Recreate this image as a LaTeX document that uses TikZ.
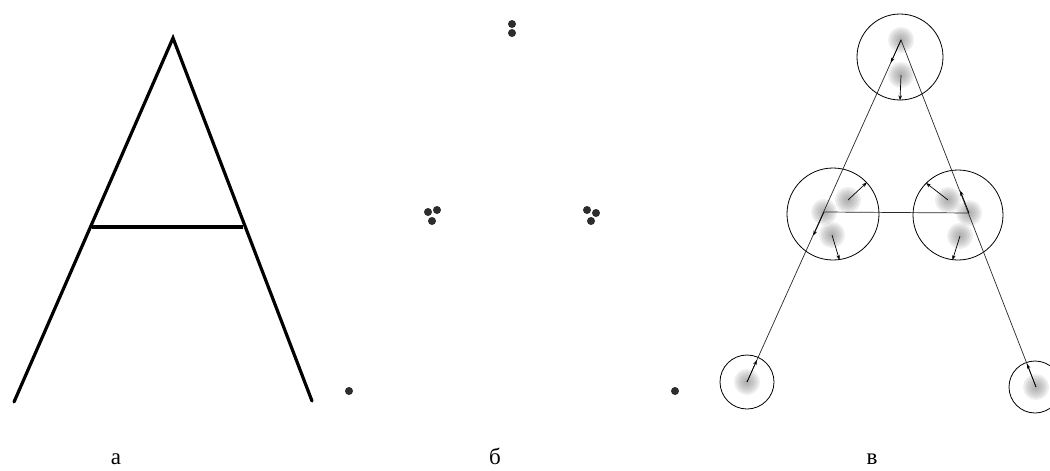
\documentclass[tikz,border=0pt]{standalone}
\usepackage{fontspec}
\setmainfont{Liberation Serif}
\usetikzlibrary{arrows.meta,calc,positioning}
\definecolor{DotGrey}{RGB}{45,45,45}
\definecolor{LineGrey}{RGB}{40,40,40}
\tikzset{
  letterline/.style={line width=3.2pt,line cap=round},
  spot/.style={fill=DotGrey},
  blob/.style={fill=gray,fill opacity=.13},
  ring/.style={circle,draw,line width=.8pt,inner sep=0pt},
  link/.style={LineGrey,line width=.7pt},
  drift/.style={->,line width=.7pt},
  tag/.style={anchor=base,font=\fontsize{23}{27}\selectfont,inner sep=0pt}
}
\begin{document}
\begin{tikzpicture}[x=1pt,y=-1pt,>={Stealth[length=5pt,width=3.5pt]}]
  \fill[white] (0,0) rectangle (1050,471);
  \useasboundingbox (0,0) rectangle (1050,471);
  \clip (0,0) rectangle (1050,471);
  % a
  \coordinate (apex) at (173,38);
  \coordinate (footL) at (14,402);
  \coordinate (footR) at (312,401);
  \coordinate (barL) at (92,227);
  \coordinate (barR) at (243,227);
  \draw[letterline] (footL) -- (apex) -- (footR);
  \draw[letterline,line cap=butt] (barL) -- (barR);
  % b
  \foreach \x/\y in {512/24,512/33,428/212,437/210,432/221,587/210,596/213,591/221,349/391,675/391}
    \fill[spot] (\x,\y) circle (4);
  % v
  \coordinate (t1) at (901,40);
  \coordinate (t2) at (901,75);
  \coordinate (l1) at (824,212);
  \coordinate (l2) at (848,200);
  \coordinate (l3) at (832,235);
  \coordinate (r1) at (969,213);
  \coordinate (r2) at (948,200);
  \coordinate (r3) at (960,236);
  \coordinate (bl) at (747,382);
  \coordinate (br) at (1036,387);
  \foreach \p in {t1,t2,l1,l2,l3,r1,r2,r3,bl,br}
    \foreach \r in {13,11,9,7,5,3}
      \fill[blob] (\p) circle (\r);
  \node[ring,minimum size=86pt] (ct) at (900,57) {};
  \node[ring,minimum size=92pt] (cl) at (833,214) {};
  \node[ring,minimum size=90pt] (cr) at (958,215) {};
  \node[ring,minimum size=54pt] (cbl) at (747,382) {};
  \node[ring,minimum size=52pt] (cbr) at (1035,387) {};
  \draw[link] (bl) -- (t1) -- (br);
  \draw[link] (l1) -- (r1);
  \draw[drift] (t1) -- ($(t1)!25pt!(bl)$);
  \draw[drift] (t2) -- (ct.south);
  \draw[drift] (l2) -- (cl.43);
  \draw[drift] (l1) -- ($(l1)!26pt!(bl)$);
  \draw[drift] (l3) -- (cl.-82);
  \draw[drift] (r2) -- (cr.135);
  \draw[drift] (r1) -- ($(r1)!24pt!(t1)$);
  \draw[drift] (r3) -- (cr.-97);
  \draw[drift] (bl) -- ($(bl)!24pt!(t1)$);
  \draw[drift] (br) -- ($(br)!25pt!(t1)$);
  % labels
  \node[tag] (capA) at (116,464) {а};
  \node[tag] (capB) at (495,464) {б};
  \node[tag] (capV) at (872,464) {в};
\end{tikzpicture}
\end{document}
